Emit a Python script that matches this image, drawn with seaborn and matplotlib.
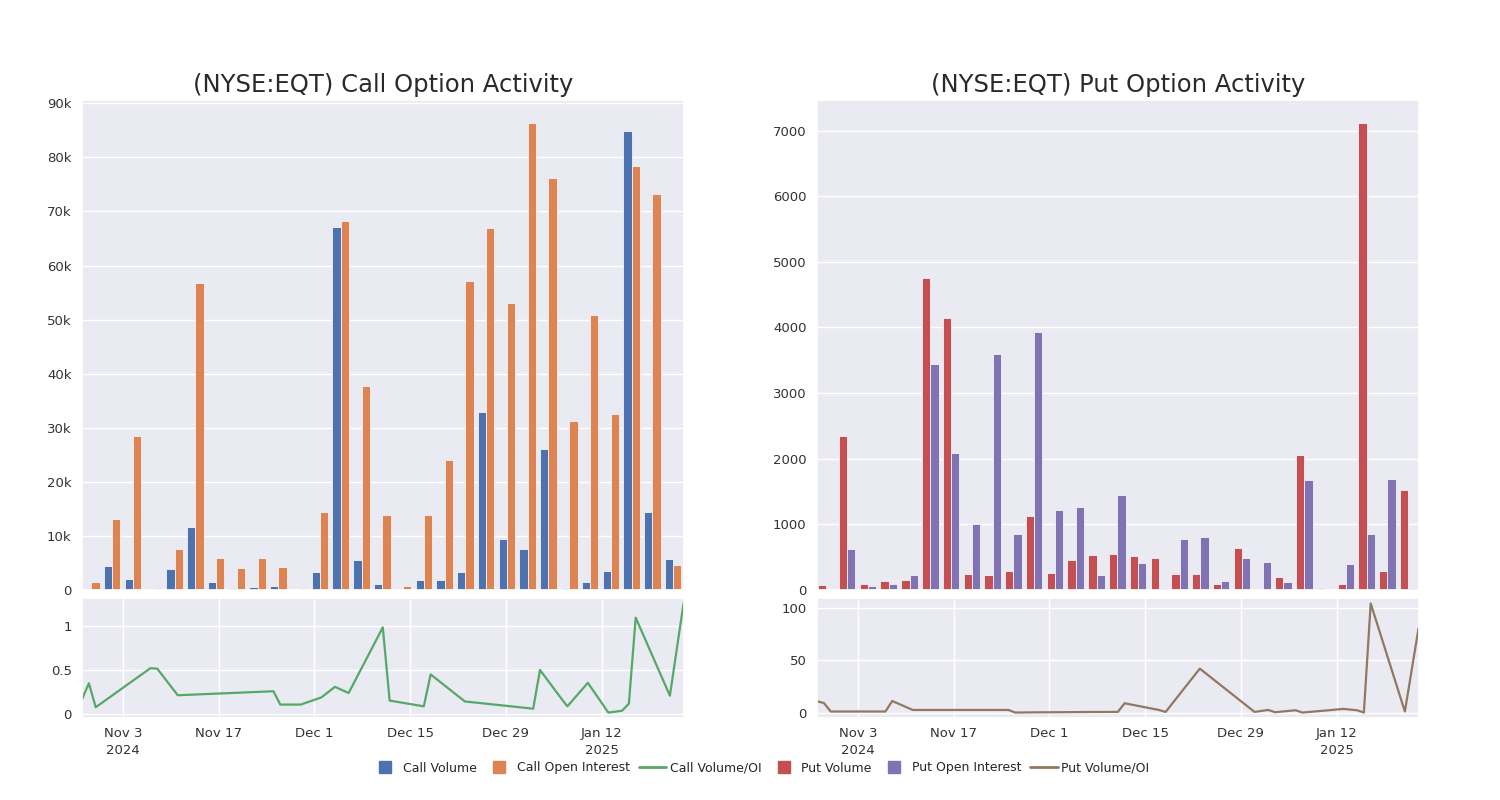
import matplotlib
matplotlib.use("Agg")
import matplotlib.pyplot as plt
from matplotlib.lines import Line2D
from matplotlib.ticker import FuncFormatter
import seaborn as sns
import pandas as pd

# trading dates shown on both panels
dates = ["2024-10-28", "2024-10-29", "2024-10-30", "2024-11-07", "2024-11-08",
         "2024-11-11", "2024-11-25", "2024-11-26", "2024-11-29", "2024-12-02",
         "2024-12-04", "2024-12-06", "2024-12-11", "2024-12-12", "2024-12-17",
         "2024-12-18", "2024-12-23", "2024-12-31", "2025-01-02", "2025-01-03",
         "2025-01-06", "2025-01-07", "2025-01-10", "2025-01-13", "2025-01-15",
         "2025-01-16", "2025-01-17", "2025-01-22", "2025-01-24"]

call_volume = [200, 4400, 2000, 200, 3800, 11600, 1400, 400, 560, 740,
               60, 3300, 67200, 5500, 1200, 250, 1800, 1800, 3300, 32900,
               9400, 7500, 26000, 430, 1500, 3500, 84800, 14400, 5800]
call_oi = [1500, 13200, 28400, 400, 7500, 56800, 5900, 4100, 5900, 4300,
           300, 14400, 68200, 37700, 13900, 700, 13800, 24000, 57200, 66900,
           53000, 86300, 76200, 31200, 50900, 32500, 78400, 73200, 4600]
call_ratio = [0.17, 0.35, 0.08, 0.52, 0.515, 0.215, 0.26, 0.11, 0.11, 0.19,
              0.31, 0.24, 0.98, 0.155, 0.09, 0.45, 0.145, 0.08, 0.063, 0.50,
              0.19, 0.09, 0.355, 0.02, 0.04, 0.12, 1.09, 0.21, 1.25]

put_volume = [77, 2340, 90, 137, 158, 4760, 4140, 245, 224, 290,
              1125, 255, 450, 535, 545, 525, 480, 250, 250, 97,
              638, 10, 204, 2057, 36, 87, 7110, 296, 1530]
put_oi = [5, 630, 60, 90, 224, 3450, 2080, 1000, 3600, 855,
          3930, 1220, 1265, 235, 1445, 418, 25, 775, 800, 143,
          495, 434, 122, 1670, 15, 400, 855, 1690, 30]
put_ratio = [10.8, 9.2, 1.0, 1.0, 11.1, 2.5, 2.5, 0.0, 0.2, 0.3,
             0.4, 0.5, 0.6, 8.9, 2.5, 0.6, 42.2, 0.6, 2.5, 0.3,
             2.2, 0.0, 1.7, 3.5, 2.2, 0.0, 104.8, 1.0, 81.0]

tick_dates = ["2024-11-03", "2024-11-17", "2024-12-01", "2024-12-15", "2024-12-29", "2025-01-12"]
tick_labels = ["Nov 3\n2024", "Nov 17", "Dec 1", "Dec 15", "Dec 29", "Jan 12\n2025"]

call_title = "(NYSE:EQT) Call Option Activity"
put_title = "(NYSE:EQT) Put Option Activity"

pal = sns.color_palette("deep")
C_BLUE, C_ORANGE, C_GREEN, C_RED, C_PURPLE, C_BROWN = pal[0], pal[1], pal[2], pal[3], pal[4], pal[5]

sns.set_theme(style="darkgrid")
plt.rcParams["font.family"] = ["DejaVu Sans"]
plt.rcParams["xtick.labelsize"] = 9.5
plt.rcParams["ytick.labelsize"] = 9.5
plt.rcParams["xtick.color"] = "#333333"
plt.rcParams["ytick.color"] = "#333333"


def k_fmt(v, _):
    if v == 0:
        return "0"
    return f"{int(round(v / 1000))}k"


def draw_panel(fig, left, title, vol, oi, ratio, names, colors, line_color, k_ticks):
    bar_ax = fig.add_axes([left, 0.2625, 0.401, 0.6125])
    line_ax = fig.add_axes([left, 0.1025, 0.401, 0.15])

    df = pd.DataFrame({"date": dates, names[0]: vol, names[1]: oi})
    long = df.melt(id_vars="date", var_name="series", value_name="value")
    sns.barplot(data=long, x="date", y="value", hue="series", order=dates,
                hue_order=names, palette=colors, width=0.8, saturation=1, ax=bar_ax,
                edgecolor="#f4f4f8", linewidth=0.6, legend=False)
    bar_ax.set_xticks(range(0, len(dates), 5))
    bar_ax.set_xticklabels([])
    bar_ax.tick_params(axis="x", length=0)
    bar_ax.tick_params(axis="y", pad=1.5)
    bar_ax.set_xlim(-0.45, len(dates) - 0.5)
    bar_ax.set_ylim(0, max(max(vol), max(oi)) * 1.05)
    if k_ticks:
        bar_ax.set_yticks(range(0, 90001, 10000))
        bar_ax.yaxis.set_major_formatter(FuncFormatter(k_fmt))
    bar_ax.set_xlabel("")
    bar_ax.set_ylabel("")
    bar_ax.set_title(title, fontsize=17.5, pad=6, color="#2a2a2a")

    ds = pd.to_datetime(dates)
    sns.lineplot(x=ds, y=ratio, ax=line_ax, color=line_color, linewidth=1.6)
    line_ax.set_xlim(ds[0], ds[-1])
    line_ax.set_xticks(pd.to_datetime(tick_dates))
    line_ax.set_xticklabels(tick_labels, linespacing=1.35)
    line_ax.tick_params(axis="x", pad=0.5)
    line_ax.tick_params(axis="y", pad=1.5)
    line_ax.margins(y=0.05)
    line_ax.set_xlabel("")
    line_ax.set_ylabel("")
    return bar_ax, line_ax


fig = plt.figure(figsize=(15, 8), dpi=100)

_, call_line = draw_panel(fig, 0.0547, call_title, call_volume, call_oi, call_ratio,
                          ["Call Volume", "Call Open Interest"], [C_BLUE, C_ORANGE], C_GREEN, True)
call_line.set_yticks([0, 0.5, 1])
call_line.set_yticklabels(["0", "0.5", "1"])

_, put_line = draw_panel(fig, 0.5447, put_title, put_volume, put_oi, put_ratio,
                         ["Put Volume", "Put Open Interest"], [C_RED, C_PURPLE], C_BROWN, False)
put_line.set_yticks([0, 50, 100])

handles = [
    Line2D([], [], marker="s", linestyle="none", color=C_BLUE, markersize=9, label="Call Volume"),
    Line2D([], [], marker="s", linestyle="none", color=C_ORANGE, markersize=9, label="Call Open Interest"),
    Line2D([], [], color=C_GREEN, linewidth=2, label="Call Volume/OI"),
    Line2D([], [], marker="s", linestyle="none", color=C_RED, markersize=9, label="Put Volume"),
    Line2D([], [], marker="s", linestyle="none", color=C_PURPLE, markersize=9, label="Put Open Interest"),
    Line2D([], [], color=C_BROWN, linewidth=2, label="Put Volume/OI"),
]
fig.legend(handles=handles, loc="center", bbox_to_anchor=(0.507, 0.04), ncol=6,
           frameon=False, fontsize=9, handlelength=2.2, handletextpad=0.3, columnspacing=0.7)

fig.savefig("out.png", dpi=100, facecolor="white")
